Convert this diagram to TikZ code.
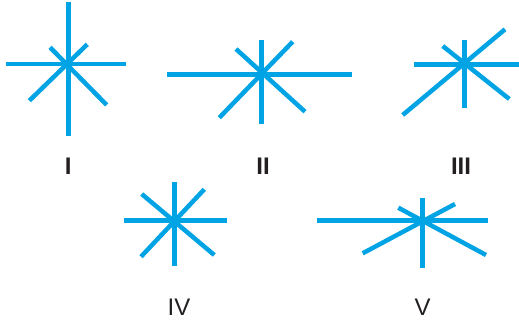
\documentclass[tikz,border=0pt]{standalone}
\usepackage{fontspec}
\setmainfont{Liberation Sans}
\definecolor{raycol}{RGB}{0,164,228}
\definecolor{labcol}{RGB}{35,31,32}
\begin{document}
\begin{tikzpicture}[x=1pt,y=-1pt,
  ray/.style={draw=raycol,line width=4.5pt},
  boldlab/.style={text=labcol,font=\fontsize{24}{24}\selectfont\bfseries,inner sep=0pt,anchor=base},
  thinlab/.style={text=labcol,font=\fontsize{24}{24}\selectfont,inner sep=0pt,anchor=base}]
\useasboundingbox (0,0) rectangle (519,325);
% Star I
\draw[ray] (68.3,1.7) -- (68.3,136);
\draw[ray] (5.7,64) -- (125.7,64);
\draw[ray] (87.3,44.3) -- (29.3,100.7);
\draw[ray] (50,47.3) -- (106.7,105);
\node[boldlab] (l1) at (68.3,174.5) {I};
% Star II
\draw[ray] (261.7,40) -- (261.7,124);
\draw[ray] (166.7,74.3) -- (352.3,74.3);
\draw[ray] (292.7,41.7) -- (219.3,117.7);
\draw[ray] (236,49) -- (305,111.7);
\node[boldlab] (l2) at (263,174.5) {II};
% Star III
\draw[ray] (464.3,40) -- (464.3,107.7);
\draw[ray] (414,64.3) -- (519,64.3);
\draw[ray] (505,29.3) -- (402.7,115);
\draw[ray] (442.7,46) -- (509.3,99);
\node[boldlab] (l3) at (461,174.5) {III};
% Star IV
\draw[ray] (174.3,182.3) -- (174.3,265.7);
\draw[ray] (124.3,220.7) -- (227.3,220.7);
\draw[ray] (204.3,189.3) -- (141,256.7);
\draw[ray] (141.7,194) -- (214.3,255);
\node[thinlab] (l4) at (179,315) {IV};
% Star V
\draw[ray] (422.7,197.7) -- (422.7,268.3);
\draw[ray] (317.3,220.7) -- (488.3,220.7);
\draw[ray] (455,204) -- (362.7,253.3);
\draw[ray] (398.3,207.7) -- (486,255);
\node[thinlab] (l5) at (422.7,315) {V};
\end{tikzpicture}
\end{document}
